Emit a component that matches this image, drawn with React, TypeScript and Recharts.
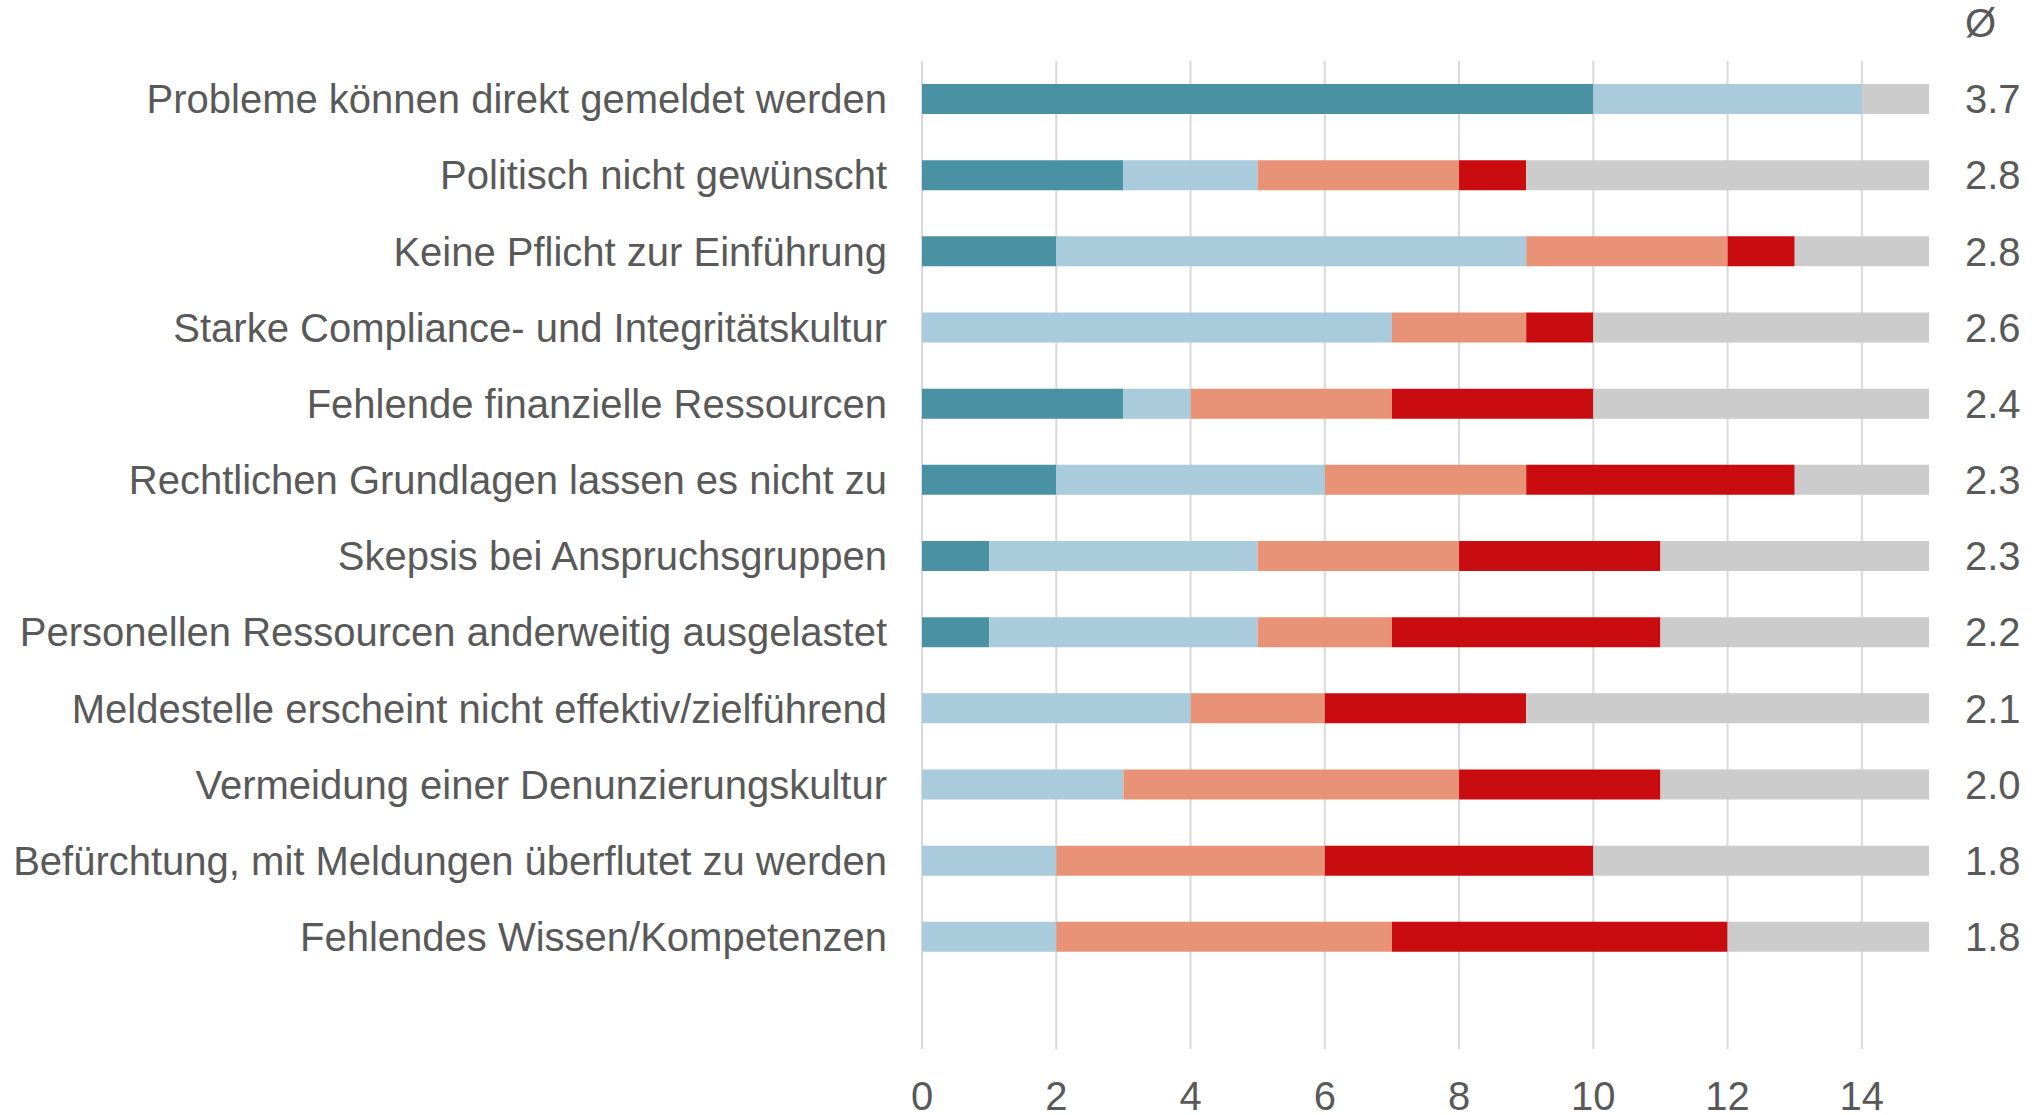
import { BarChart, Bar, XAxis, YAxis, CartesianGrid } from "recharts";

const categories = [
  "Probleme können direkt gemeldet werden",
  "Politisch nicht gewünscht",
  "Keine Pflicht zur Einführung",
  "Starke Compliance- und Integritätskultur",
  "Fehlende finanzielle Ressourcen",
  "Rechtlichen Grundlagen lassen es nicht zu",
  "Skepsis bei Anspruchsgruppen",
  "Personellen Ressourcen anderweitig ausgelastet",
  "Meldestelle erscheint nicht effektiv/zielführend",
  "Vermeidung einer Denunzierungskultur",
  "Befürchtung, mit Meldungen überflutet zu werden",
  "Fehlendes Wissen/Kompetenzen",
];

// counts per answer level (4 = strongest ... 1 = weakest, then no answer)
const level4 = [10, 3, 2, 0, 3, 2, 1, 1, 0, 0, 0, 0];
const level3 = [4, 2, 7, 7, 1, 4, 4, 4, 4, 3, 2, 2];
const level2 = [0, 3, 3, 2, 3, 3, 3, 2, 2, 5, 4, 5];
const level1 = [0, 1, 1, 1, 3, 4, 3, 4, 3, 3, 4, 5];
const noAnswer = [1, 6, 2, 5, 5, 2, 4, 4, 6, 4, 5, 3];

const averages = [3.7, 2.8, 2.8, 2.6, 2.4, 2.3, 2.3, 2.2, 2.1, 2.0, 1.8, 1.8];

const xTicks = [0, 2, 4, 6, 8, 10, 12, 14];

const series = [
  { key: "level4", color: "#4A91A4" },
  { key: "level3", color: "#AACBDB" },
  { key: "level2", color: "#E89377" },
  { key: "level1", color: "#C80C0F" },
  { key: "noAnswer", color: "#CCCCCC" },
];

const data = categories.map((name, i) => ({
  name,
  level4: level4[i],
  level3: level3[i],
  level2: level2[i],
  level1: level1[i],
  noAnswer: noAnswer[i],
}));

const textColor = "#595959";
const fontSize = 40;

// only draw grid lines at the tick values (no line at the domain end)
const gridX = (props: any) => {
  const scale = props.xAxis?.scale;
  if (!scale) return [];
  return xTicks.map((t) => (typeof scale === "function" ? scale(t) : scale.map(t)));
};

export default function App() {
  return (
    <div
      style={{
        position: "absolute",
        left: 0,
        top: 0,
        width: 2036,
        height: 1115,
        background: "#fff",
        fontFamily: "'Liberation Sans', Arial, sans-serif",
      }}
    >
      <BarChart
        width={2036}
        height={1115}
        data={data}
        layout="vertical"
        margin={{ top: 61, right: 0, bottom: 0, left: 0 }}
      >
        <CartesianGrid
          horizontal={false}
          stroke="#D9D9D9"
          strokeWidth={2}
          verticalCoordinatesGenerator={gridX}
        />
        <XAxis
          type="number"
          domain={[0, 15]}
          ticks={xTicks}
          axisLine={false}
          tickLine={false}
          tickSize={0}
          tickMargin={33}
          height={66}
          tick={{ fill: textColor, fontSize }}
        />
        <YAxis
          yAxisId="left"
          type="category"
          dataKey="name"
          width={922}
          axisLine={false}
          tickLine={false}
          tickSize={0}
          tickMargin={35}
          interval={0}
          padding={{ top: 0, bottom: 74 }}
          tick={{ fill: textColor, fontSize }}
        />
        <YAxis
          yAxisId="right"
          orientation="right"
          type="category"
          dataKey="name"
          width={107}
          axisLine={false}
          tickLine={false}
          tickSize={0}
          tickMargin={36}
          interval={0}
          padding={{ top: 0, bottom: 74 }}
          tick={{ fill: textColor, fontSize, textAnchor: "start" }}
          tickFormatter={(_v: string, i: number) => averages[i].toFixed(1)}
          label={{ value: "Ø", position: "top", offset: 24, dx: -2, fill: textColor, fontSize }}
        />
        {series.map((s) => (
          <Bar
            key={s.key}
            dataKey={s.key}
            yAxisId="left"
            stackId="a"
            fill={s.color}
            barSize={30}
            isAnimationActive={false}
          />
        ))}
      </BarChart>
    </div>
  );
}
